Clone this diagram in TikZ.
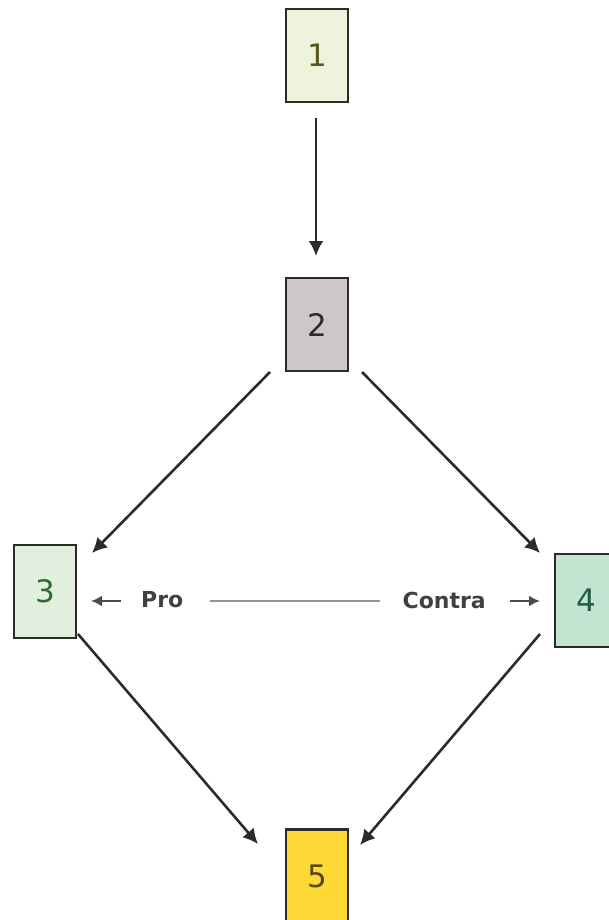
\documentclass[tikz,border=0pt]{standalone}
\usepackage{fontspec}
\setmainfont{DejaVu Sans}
\usetikzlibrary{arrows.meta}
\definecolor{fillA}{HTML}{EEF4DC}
\definecolor{fillB}{HTML}{CEC7C7}
\definecolor{fillC}{HTML}{E3EFDE}
\definecolor{fillD}{HTML}{C3E4D1}
\definecolor{fillE}{HTML}{FDD836}
\definecolor{txtA}{HTML}{55551E}
\definecolor{txtC}{HTML}{2F6A30}
\definecolor{txtD}{HTML}{1D5C48}
\definecolor{txtE}{HTML}{5A4814}
\definecolor{edge}{HTML}{2E2A2A}
\tikzset{
  numbox/.style={draw=edge, line width=2.2pt, minimum width=62pt, minimum height=93pt,
    inner sep=0pt, font=\fontsize{31}{31}\selectfont},
  flow/.style={draw=edge, line width=2.6pt, -{Latex[length=15pt,width=15pt]}},
  side/.style={draw=edge!85, line width=2.4pt, -{Latex[length=11pt,width=11pt]}},
  tag/.style={font=\fontsize{22}{22}\selectfont\bfseries, text=edge!90, inner sep=0pt},
}
\begin{document}
\begin{tikzpicture}[x=1pt,y=-1pt]
  \useasboundingbox (0,0) rectangle (608,920);
  % boxes
  \node[numbox, fill=fillA, text=txtA] (n1) at (317,55.5) {1};
  \node[numbox, fill=fillB, text=edge] (n2) at (317,324.5) {2};
  \node[numbox, fill=fillC, text=txtC] (n3) at (45,591.5) {3};
  \node[numbox, fill=fillD, text=txtD] (n4) at (586,600.5) {4};
  \node[numbox, fill=fillE, text=txtE] (n5) at (317,876) {5};
  % connector end points
  \coordinate (a1) at (316,118);
  \coordinate (a2) at (316,256);
  \coordinate (b1) at (270,372);
  \coordinate (b2) at (92,553);
  \coordinate (c1) at (362,372);
  \coordinate (c2) at (540,553);
  \coordinate (d1) at (78,634);
  \coordinate (d2) at (258,844);
  \coordinate (e1) at (540,634);
  \coordinate (e2) at (360,845);
  \draw[flow] (a1) -- (a2);
  \draw[flow] (b1) -- (b2);
  \draw[flow] (c1) -- (c2);
  \draw[flow] (d1) -- (d2);
  \draw[flow] (e1) -- (e2);
  % pro / contra
  \node[tag, anchor=west] (pro) at (141,600) {Pro};
  \node[tag, anchor=east] (con) at (486,600) {Contra};
  \coordinate (p1) at (121,601);
  \coordinate (p2) at (91,601);
  \coordinate (q1) at (510,601);
  \coordinate (q2) at (540,601);
  \coordinate (m1) at (210,601);
  \coordinate (m2) at (380,601);
  \draw[side] (p1) -- (p2);
  \draw[side] (q1) -- (q2);
  \draw[draw=gray!85, line width=2.4pt] (m1) -- (m2);
\end{tikzpicture}
\end{document}
